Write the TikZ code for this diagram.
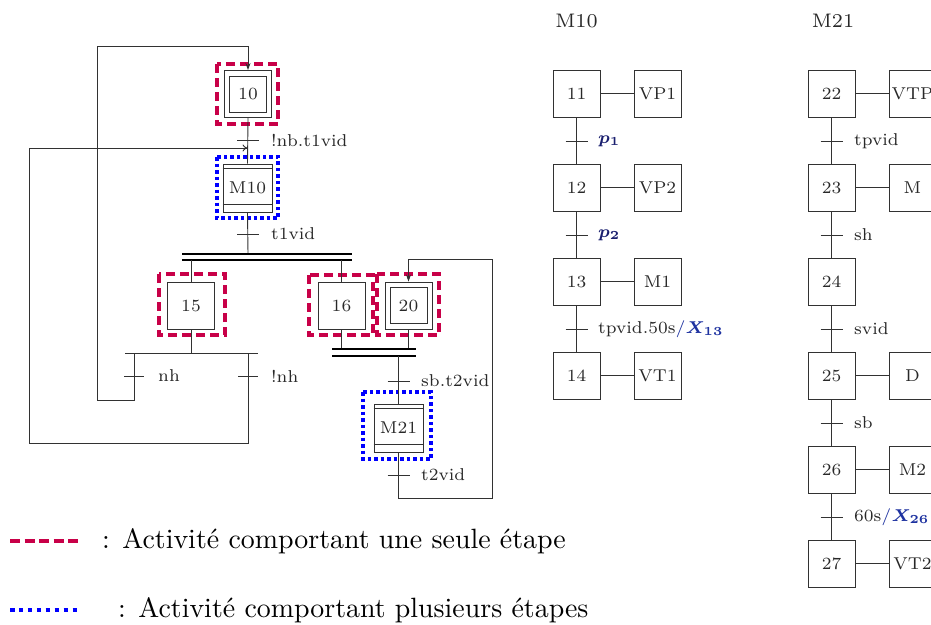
\documentclass[tikz,border=0pt]{standalone}
\usepackage{graphicx}
\usetikzlibrary{arrows.meta}
\definecolor{actred}{RGB}{200,0,72}
\definecolor{actblue}{RGB}{0,0,255}
\definecolor{mathblue}{RGB}{30,50,160}
\definecolor{navy}{RGB}{25,30,110}
\definecolor{ln}{RGB}{50,50,50}
\definecolor{tx}{RGB}{40,40,40}
\newcommand\lb[1]{\scalebox{2.45}{\fontsize{7}{8.4}\selectfont #1}}
\newcommand\ttl[1]{\scalebox{2.8}{\fontsize{7}{8.4}\selectfont #1}}
\newcommand\lgd[1]{\scalebox{2.79}{\fontsize{10}{12}\selectfont #1}}
\newcommand\mb[1]{{\color{mathblue}\boldmath$#1$}}
\newcommand\mpb[1]{{\color{navy}\boldmath$#1$}}
\newcommand\mi[1]{{\color{mathblue}$#1$}}
\begin{document}
\begin{tikzpicture}[x=1pt,y=-1pt,
  line/.style={draw=ln, line width=0.9pt},
  bar/.style={draw=black, line width=1.8pt},
  stepbox/.style={draw=ln, line width=0.9pt, minimum width=47pt, minimum height=47pt, inner sep=0pt, text=tx},
  innerbox/.style={draw=ln, line width=0.9pt, minimum width=37pt, minimum height=36pt, inner sep=0pt},
  macrobox/.style={draw=ln, line width=0.9pt, minimum width=49pt, minimum height=48pt, inner sep=0pt, text=tx},
  lbl/.style={anchor=west, inner sep=0pt, text=tx},
  redact/.style={draw=actred, line width=4pt, dash pattern=on 9pt off 5pt},
  blueact/.style={draw=actblue, line width=4pt, dash pattern=on 3.5pt off 3pt},
  arrf/.style={-{Stealth[length=7pt,width=5pt]}},
  arro/.style={-{To[length=5pt,width=7pt]}}
]
\useasboundingbox (0,0) rectangle (931,624);

% ---------------- main graph ----------------
\node[stepbox] (s10) at (248,94) {\lb{10}};
\node[innerbox] (s10i) at (248,94) {};
\draw[redact] (217,64) rectangle (278,124);

\node[macrobox] (m10) at (247.5,188) {\lb{M10}};
\draw[line] (m10.north west) ++(0,5) -- ++(50,0);
\draw[line] (m10.south west) ++(0,-8) -- ++(50,0);
\draw[blueact] (217,157) rectangle (278,218);

\draw[line] (s10.south) -- (m10.north);
\coordinate (t1) at (248,140);
\draw[line] (t1) ++(-11,0) -- ++(22,0);
\node[lbl] (t1l) at (271,140) {\lb{!nb.t1vid}};

\coordinate (andtop) at (248,254);
\draw[line] (m10.south) -- (andtop);
\coordinate (t2) at (248,234);
\draw[line] (t2) ++(-11,0) -- ++(22,0);
\node[lbl] (t2l) at (271,234) {\lb{t1vid}};
\draw[bar] (182,254) -- (352,254);
\draw[bar] (182,260) -- (352,260);

% step 15
\node[stepbox] (s15) at (191,305.5) {\lb{15}};
\draw[redact] (159,274) rectangle (225,335);
\coordinate (b15) at (191,260);
\draw[line] (b15) -- (s15.north);
\coordinate (or15) at (191,353);
\draw[line] (s15.south) -- (or15);
\draw[line] (125,353) -- (258,353);

% step 16 and 20
\node[stepbox] (s16) at (341.5,305.5) {\lb{16}};
\draw[redact] (309,275) rectangle (373,335);
\coordinate (b16) at (341.5,260);
\draw[line] (b16) -- (s16.north);

\node[stepbox] (s20) at (408.5,305.5) {\lb{20}};
\node[innerbox] (s20i) at (408.5,305.5) {};
\draw[redact] (377,274) rectangle (439,335);

\coordinate (c16) at (341.5,349);
\coordinate (c20) at (408.5,349);
\draw[line] (s16.south) -- (c16);
\draw[line] (s20.south) -- (c20);
\draw[bar] (332,349) -- (416,349);
\draw[bar] (332,356) -- (416,356);

\node[macrobox] (m21) at (398.5,428) {\lb{M21}};
\draw[line] (m21.north west) ++(0,5) -- ++(50,0);
\draw[line] (m21.south west) ++(0,-8) -- ++(50,0);
\draw[blueact] (363,392) rectangle (431,459);

\coordinate (cv) at (398.5,356);
\draw[line] (cv) -- (m21.north);
\coordinate (t3) at (398.5,381);
\draw[line] (t3) ++(-11,0) -- ++(22,0);
\node[lbl] (t3l) at (421,381) {\lb{sb.t2vid}};

\coordinate (t4) at (398.5,475);
\draw[line] (t4) ++(-11,0) -- ++(22,0);
\node[lbl] (t4l) at (421,475) {\lb{t2vid}};
\draw[line, arrf] (m21.south) -- (398.5,498) -- (492,498) -- (492,259) -- (408.5,259) -- (s20.north);

% loops back
\coordinate (nhc) at (134,353);
\coordinate (t5) at (134,376);
\draw[line] (t5) ++(-10,0) -- ++(20,0);
\node[lbl] (t5l) at (158,376) {\lb{nh}};
\draw[line, arrf] (nhc) -- (134,400) -- (97,400) -- (97,46) -- (248,46) -- (s10.north);

\coordinate (nnhc) at (248,353);
\coordinate (t6) at (248,376);
\draw[line] (t6) ++(-10,0) -- ++(20,0);
\node[lbl] (t6l) at (271,376) {\lb{!nh}};
\coordinate (a148) at (247.5,148);
\draw[line, arro] (nnhc) -- (248,443) -- (29,443) -- (29,148) -- (a148);

% ---------------- M10 ----------------
\node[inner sep=0pt, text=tx] (ttl10) at (576.5,21) {\ttl{M10}};
\foreach \n/\a [count=\i from 0] in {11/VP1,12/VP2,13/M1,14/VT1}{
  \node[stepbox] (s\n) at (576.5,93.5+94*\i) {\lb{\n}};
  \node[stepbox] (a\n) at (657.5,93.5+94*\i) {\lb{\a}};
  \draw[line] (s\n.east) -- (a\n.west);
}
\draw[line] (s11.south) -- (s12.north);
\draw[line] (s12.south) -- (s13.north);
\draw[line] (s13.south) -- (s14.north);
\foreach \yy/\tt in {141/{\mpb{p_1}},235/{\mpb{p_2}},329/{tpvid.50s\mi{/}\mb{X_{13}}}}{
  \draw[line] (565.5,\yy) -- (587.5,\yy);
  \node[lbl] at (598,\yy) {\lb{\tt}};
}

% ---------------- M21 ----------------
\node[inner sep=0pt, text=tx] (ttl21) at (833,21) {\ttl{M21}};
\foreach \n [count=\i from 0] in {22,23,24,25,26,27}{
  \node[stepbox] (s\n) at (831.5,93.5+94*\i) {\lb{\n}};
}
\foreach \n/\a in {22/VTP,23/M,25/D,26/M2,27/VT2}{
  \node[stepbox] (a\n) at (912.5,0 |- s\n) {\lb{\a}};
  \draw[line] (s\n.east) -- (a\n.west);
}
\draw[line] (s22.south) -- (s23.north);
\draw[line] (s23.south) -- (s24.north);
\draw[line] (s24.south) -- (s25.north);
\draw[line] (s25.south) -- (s26.north);
\draw[line] (s26.south) -- (s27.north);
\foreach \yy/\tt in {141/tpvid,235/sh,329/svid,423/sb,517/{60s\mi{/}\mb{X_{26}}}}{
  \draw[line] (820.5,\yy) -- (842.5,\yy);
  \node[lbl] at (854,\yy) {\lb{\tt}};
}

% ---------------- legend ----------------
\draw[draw=actred, line width=4pt, dash pattern=on 10pt off 4.5pt] (10,541) -- (78,541);
\node[lbl, text=black] (lg1) at (102,541) {\lgd{: Activité comportant une seule étape}};
\draw[draw=actblue, line width=4pt, dash pattern=on 4.5pt off 4.43pt] (10,610) -- (78,610);
\node[lbl, text=black] (lg2) at (118,610) {\lgd{: Activité comportant plusieurs étapes}};
\end{tikzpicture}
\end{document}
